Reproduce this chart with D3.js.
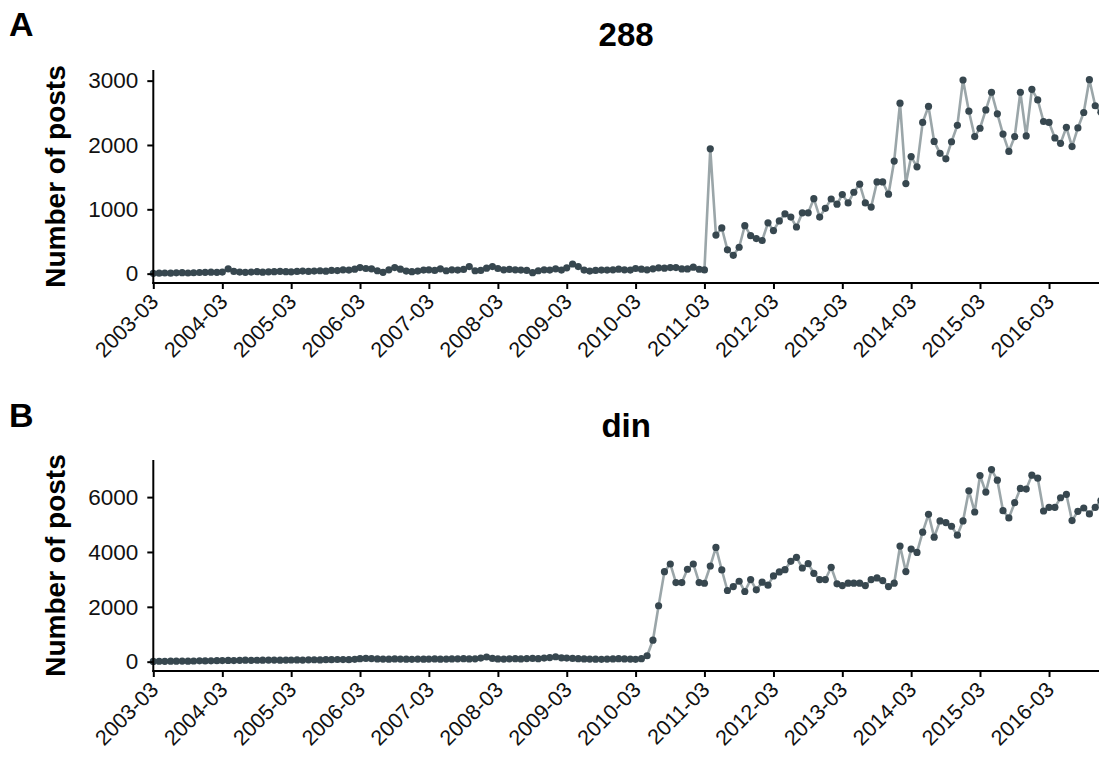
<!DOCTYPE html>
<html>
<head>
<meta charset="utf-8">
<script src="https://cdn.jsdelivr.net/npm/d3@7"></script>
<style>
  html, body { margin: 0; padding: 0; background: #fff; }
  svg { display: block; font-family: "Liberation Sans", Arial, Helvetica, sans-serif; }
</style>
</head>
<body>
<svg id="chart" width="1099" height="762"></svg>
<script>
// Monthly post counts, starting 2003-03
const startMonth = "2003-03";
const endMonth = "2016-12";

const posts288 = [
  // 2003-03 .. 2003-12
  5, 8, 10, 8, 12, 15, 10, 14, 18, 20,
  // 2004
  22, 20, 25, 75, 35, 25, 20, 25, 30, 22, 28, 30,
  // 2005
  35, 30, 28, 35, 40, 35, 40, 45, 38, 50, 48, 60,
  // 2006
  55, 70, 95, 80, 75, 45, 20, 60, 95, 70, 40, 30,
  // 2007
  40, 55, 60, 50, 75, 45, 60, 55, 65, 110, 45, 50,
  // 2008
  85, 110, 80, 60, 65, 60, 55, 50, 15, 45, 60, 55,
  // 2009
  75, 55, 90, 150, 110, 55, 40, 50, 55, 55, 60, 70,
  // 2010
  60, 55, 80, 70, 60, 75, 90, 85, 95, 95, 73, 73,
  // 2011
  100, 68, 57, 1940, 600, 710, 370, 285, 410, 745, 590, 545,
  // 2012
  515, 790, 670, 820, 930, 880, 725, 945, 945, 1165, 880, 1015,
  // 2013
  1160, 1080, 1230, 1100, 1265, 1390, 1100, 1035, 1425, 1425, 1235, 1750,
  // 2014
  2650, 1400, 1820, 1660, 2350, 2600, 2055, 1870, 1785, 2050, 2305, 3010,
  // 2015
  2525, 2130, 2260, 2545, 2820, 2485, 2170, 1900, 2130, 2820, 2140, 2865,
  // 2016
  2700, 2365, 2350, 2110, 2025, 2275, 1975, 2265, 2505, 3015, 2610, 2510
];

const postsDin = [
  // 2003-03 .. 2003-12
  10, 15, 12, 18, 20, 22, 20, 25, 30, 28,
  // 2004
  30, 35, 40, 45, 42, 50, 55, 48, 52, 55, 60, 58,
  // 2005
  55, 60, 62, 65, 60, 68, 70, 65, 72, 75, 80, 78,
  // 2006
  75, 85, 110, 120, 115, 100, 95, 90, 100, 95, 90, 85,
  // 2007
  95, 90, 95, 100, 90, 95, 100, 105, 110, 100, 105, 130,
  // 2008
  170, 120, 100, 95, 105, 110, 100, 115, 120, 110, 130, 150,
  // 2009
  180, 140, 130, 120, 110, 100, 95, 90, 85, 95, 100, 110,
  // 2010
  100, 95, 85, 109, 217, 783, 2040, 3283, 3562, 2884, 2884, 3370,
  // 2011
  3562, 2884, 2860, 3489, 4165, 3344, 2595, 2740, 2933, 2559, 2994, 2619,
  // 2012
  2897, 2788, 3127, 3271, 3356, 3658, 3803, 3416, 3573, 3223, 2994, 2994,
  // 2013
  3441, 2837, 2776, 2861, 2861, 2861, 2776, 2994, 3054, 2957, 2740, 2861,
  // 2014
  4213, 3284, 4105, 3984, 4721, 5373, 4540, 5131, 5071, 4938, 4612, 5131,
  // 2015
  6230, 5457, 6786, 6182, 7003, 6617, 5506, 5240, 5796, 6315, 6291, 6798,
  // 2016
  6689, 5494, 5627, 5627, 5977, 6098, 5143, 5482, 5602, 5385, 5627, 5880
];

const tickLabels = ["2003-03", "2004-03", "2005-03", "2006-03", "2007-03", "2008-03",
  "2009-03", "2010-03", "2011-03", "2012-03", "2013-03", "2014-03", "2015-03", "2016-03"];

const panelLetters = ["A", "B"];
const panelTitles = ["288", "din"];
const yTicksA = [0, 1000, 2000, 3000];
const yTicksB = [0, 2000, 4000, 6000];
const yAxisTitle = "Number of posts";

const lineColor = "#9ba6a9";
const pointColor = "#37474f";

const parseMonth = d3.timeParse("%Y-%m");
const months = d3.timeMonth.range(parseMonth(startMonth), d3.timeMonth.offset(parseMonth(endMonth), 1));

const svg = d3.select("#chart");

const plotLeft = 153.3;
// the time axis runs on slightly past the right edge of the page
const x = d3.scaleTime()
  .domain([parseMonth(startMonth), parseMonth(endMonth)])
  .range([plotLeft, 1100.9]);

const panels = [
  { letter: panelLetters[0], title: panelTitles[0], values: posts288, yTicks: yTicksA,
    top: 70, bottom: 283, letterY: 36, titleY: 46 },
  { letter: panelLetters[1], title: panelTitles[1], values: postsDin, yTicks: yTicksB,
    top: 460, bottom: 671, letterY: 427, titleY: 437 }
];

panels.forEach(p => {
  const data = months.map((m, i) => ({ date: m, value: p.values[i] }));
  const ext = d3.extent(p.values);
  const pad = (ext[1] - ext[0]) * 0.05;
  const y = d3.scaleLinear()
    .domain([ext[0] - pad, ext[1] + pad])
    .range([p.bottom, p.top]);

  const g = svg.append("g");

  // panel letter
  g.append("text")
    .attr("x", 9).attr("y", p.letterY)
    .attr("font-size", 34).attr("font-weight", "bold")
    .attr("fill", "#000")
    .text(p.letter);

  // panel title
  g.append("text")
    .attr("x", (plotLeft + 1099) / 2).attr("y", p.titleY)
    .attr("text-anchor", "middle")
    .attr("font-size", 33).attr("font-weight", "bold")
    .attr("fill", "#000")
    .text(p.title);

  // y axis title
  g.append("text")
    .attr("transform", `translate(65,${(p.top + p.bottom) / 2}) rotate(-90)`)
    .attr("text-anchor", "middle")
    .attr("font-size", 28).attr("font-weight", "bold")
    .attr("fill", "#000")
    .text(yAxisTitle);

  // line and points
  const line = d3.line().x(d => x(d.date)).y(d => y(d.value));
  g.append("path")
    .datum(data)
    .attr("fill", "none")
    .attr("stroke", lineColor)
    .attr("stroke-width", 2.6)
    .attr("stroke-linejoin", "round")
    .attr("d", line);

  g.append("g")
    .selectAll("circle")
    .data(data)
    .join("circle")
    .attr("cx", d => x(d.date))
    .attr("cy", d => y(d.value))
    .attr("r", 3.6)
    .attr("fill", pointColor);

  // y axis
  const yAxis = d3.axisLeft(y)
    .tickValues(p.yTicks)
    .tickFormat(d3.format("d"))
    .tickSize(6)
    .tickPadding(9);
  const ya = g.append("g")
    .attr("transform", `translate(${plotLeft},0)`)
    .call(yAxis);
  ya.select(".domain").remove();
  ya.append("line")
    .attr("x1", 0).attr("x2", 0)
    .attr("y1", p.top).attr("y2", p.bottom + 1)
    .attr("stroke", "#000").attr("stroke-width", 2);
  ya.selectAll(".tick line").attr("stroke", "#000").attr("stroke-width", 2);
  ya.selectAll(".tick text")
    .attr("font-size", 22.5)
    .attr("font-family", "Liberation Sans, Arial, sans-serif")
    .attr("fill", "#111");

  // x axis
  const tickDates = tickLabels.map(parseMonth);
  const xAxis = d3.axisBottom(x)
    .tickValues(tickDates)
    .tickFormat((d, i) => tickLabels[i])
    .tickSize(6)
    .tickSizeOuter(0);
  const xa = g.append("g")
    .attr("transform", `translate(0,${p.bottom})`)
    .call(xAxis);
  xa.select(".domain").remove();
  xa.append("line")
    .attr("x1", plotLeft - 1).attr("x2", 1099)
    .attr("y1", 0).attr("y2", 0)
    .attr("stroke", "#000").attr("stroke-width", 2);
  xa.selectAll(".tick line").attr("stroke", "#000").attr("stroke-width", 2);
  xa.selectAll(".tick text")
    .attr("font-size", 21.5)
    .attr("font-family", "Liberation Sans, Arial, sans-serif")
    .attr("fill", "#111")
    .attr("text-anchor", "end")
    .attr("dy", null)
    .attr("y", null)
    .attr("transform", "translate(6,20) rotate(-45)");
});
</script>
</body>
</html>
